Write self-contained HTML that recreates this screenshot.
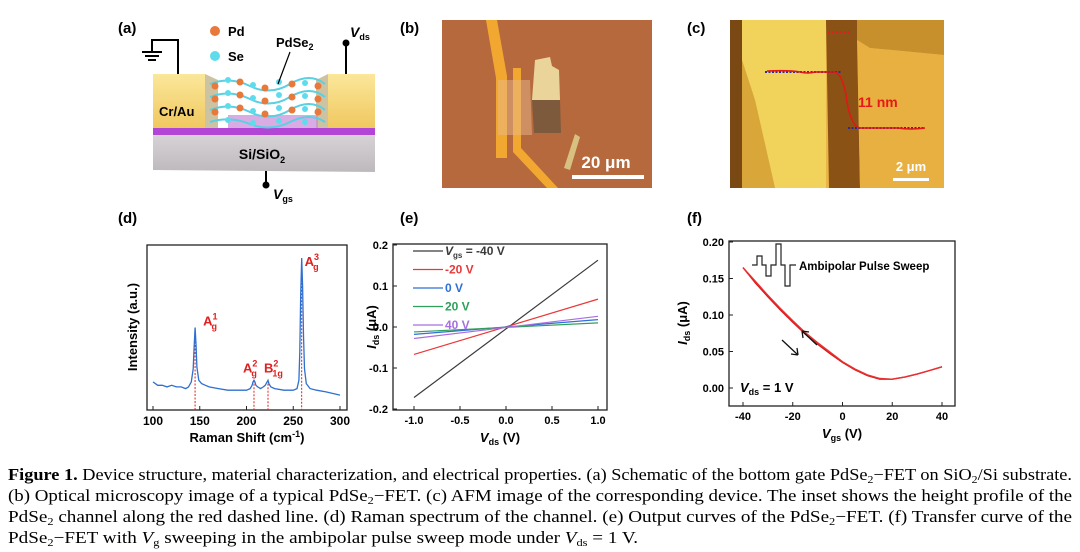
<!DOCTYPE html>
<html><head><meta charset="utf-8"><style>
html,body{margin:0;padding:0;background:#fff;}
svg{display:block;font-family:"Liberation Sans",Arial,sans-serif;}
.b{font-weight:bold;}
</style></head><body>
<svg id="fig" width="1080" height="552" viewBox="0 0 1080 552" xmlns="http://www.w3.org/2000/svg">
<defs>
<linearGradient id="gold" x1="0" y1="0" x2="0" y2="1"><stop offset="0" stop-color="#fbe79a"/><stop offset="1" stop-color="#f0c860"/></linearGradient>
<linearGradient id="gray" x1="0" y1="0" x2="0" y2="1"><stop offset="0" stop-color="#d6d2d6"/><stop offset="1" stop-color="#bdb9bd"/></linearGradient>
</defs>

<!-- Panel a -->
<g>
<text x="118" y="33" class="b" font-size="15">(a)</text>
<polygon points="153,135 375,135 375,172 153,170" fill="url(#gray)"/>
<rect x="153" y="128" width="222" height="7" fill="#b245d6"/>
<rect x="153" y="74" width="52" height="54" fill="url(#gold)"/>
<rect x="328" y="74" width="47" height="54" fill="url(#gold)"/>
<polygon points="205,74 218,80 218,128 205,128" fill="#b8a87a" opacity="0.7"/>
<polygon points="328,74 316,80 316,128 328,128" fill="#b8a87a" opacity="0.7"/>
<rect x="228" y="115" width="90" height="13" fill="#c98ad8" opacity="0.7"/>
<g stroke="#5ad0e0" stroke-width="2" fill="none">
<path d="M210,84 Q230,76 250,86 T290,84 T325,84"/>
<path d="M210,97 Q230,89 250,99 T290,97 T325,97"/>
<path d="M210,110 Q230,102 250,112 T290,110 T325,110"/>
<path d="M210,122 Q230,116 250,124 T290,122 T325,122"/>
</g>
<g fill="#e8793a">
<circle cx="215" cy="86" r="3.5"/><circle cx="240" cy="82" r="3.5"/><circle cx="265" cy="88" r="3.5"/><circle cx="292" cy="84" r="3.5"/><circle cx="318" cy="86" r="3.5"/>
<circle cx="215" cy="99" r="3.5"/><circle cx="240" cy="95" r="3.5"/><circle cx="265" cy="101" r="3.5"/><circle cx="292" cy="97" r="3.5"/><circle cx="318" cy="99" r="3.5"/>
<circle cx="215" cy="112" r="3.5"/><circle cx="240" cy="108" r="3.5"/><circle cx="265" cy="114" r="3.5"/><circle cx="292" cy="110" r="3.5"/><circle cx="318" cy="112" r="3.5"/>
</g>
<g fill="#5fdcec">
<circle cx="228" cy="80" r="3"/><circle cx="253" cy="85" r="3"/><circle cx="279" cy="82" r="3"/><circle cx="305" cy="83" r="3"/>
<circle cx="228" cy="93" r="3"/><circle cx="253" cy="98" r="3"/><circle cx="279" cy="95" r="3"/><circle cx="305" cy="96" r="3"/>
<circle cx="228" cy="106" r="3"/><circle cx="253" cy="111" r="3"/><circle cx="279" cy="108" r="3"/><circle cx="305" cy="109" r="3"/>
<circle cx="228" cy="120" r="3"/><circle cx="253" cy="123" r="3"/><circle cx="279" cy="121" r="3"/><circle cx="305" cy="122" r="3"/>
</g>
<text x="159" y="116" class="b" font-size="13">Cr/Au</text>
<text x="262" y="159" class="b" font-size="14" text-anchor="middle">Si/SiO<tspan font-size="9" dy="4">2</tspan></text>
<path d="M178,74 V40 H152 V52" stroke="#000" stroke-width="2" fill="none"/>
<path d="M142,52 H162 M145,56 H159 M148,60 H156" stroke="#000" stroke-width="2"/>
<path d="M346,74 V43" stroke="#000" stroke-width="2"/><circle cx="346" cy="43" r="3.5" fill="#000"/>
<text x="350" y="37" class="b" font-size="14"><tspan font-style="italic">V</tspan><tspan font-size="9" dy="3">ds</tspan></text>
<path d="M266,171 V184" stroke="#000" stroke-width="2"/><circle cx="266" cy="185" r="3.5" fill="#000"/>
<text x="273" y="199" class="b" font-size="14"><tspan font-style="italic">V</tspan><tspan font-size="9" dy="3">gs</tspan></text>
<circle cx="215" cy="31" r="5" fill="#e8793a"/><text x="228" y="36" class="b" font-size="13">Pd</text>
<circle cx="215" cy="56" r="5" fill="#5fdcec"/><text x="228" y="61" class="b" font-size="13">Se</text>
<text x="276" y="47" class="b" font-size="13">PdSe<tspan font-size="9" dy="3">2</tspan></text>
<path d="M290,52 L278,84" stroke="#000" stroke-width="1.2"/>
</g>

<!-- Panel b -->
<g>
<text x="400" y="33" class="b" font-size="15">(b)</text>
<rect x="442" y="20" width="210" height="168" fill="#b5693d"/>
<polygon points="486,20 497,20 507,76 507,158 496,158 496,78" fill="#f2a830"/>
<polygon points="513,68 521,68 521,148 558,188 547,188 513,152" fill="#f2a830"/>
<polygon points="498,80 530,80 532,135 498,135" fill="#e7b78a" opacity="0.5"/>
<polygon points="535,60 550,57 552,66 559,70 560,100 532,100" fill="#ead49a"/>
<polygon points="532,100 560,100 561,133 534,133" fill="#7e5a3c"/>
<polygon points="575,134 580,137 570,170 564,168" fill="#d8c080"/>
<text x="606" y="168" class="b" font-size="17" fill="#fff" text-anchor="middle">20 μm</text>
<rect x="572" y="175" width="72" height="4" fill="#fff"/>
</g>

<!-- Panel c -->
<g>
<text x="687" y="33" class="b" font-size="15">(c)</text>
<rect x="730" y="20" width="214" height="168" fill="#e9b448"/>
<rect x="730" y="20" width="12" height="168" fill="#7a4812"/>
<polygon points="742,20 826,20 826,188 775,188 755,100 742,60" fill="#f1d35c"/>
<polygon points="742,60 755,100 775,188 742,188" fill="#d9a63a"/>
<polygon points="826,20 857,20 860,188 829,188" fill="#8a5214"/>
<polygon points="857,20 944,20 944,55 870,48 857,40" fill="#c8902c"/>
<polygon points="857,40 870,48 944,55 944,188 860,188" fill="#e8b040"/>
<path d="M828,32 H852" stroke="#e02020" stroke-width="2" stroke-dasharray="2,2"/>
<path d="M765,72 H842 M848,128 H925" stroke="#2a2aa0" stroke-width="2" stroke-dasharray="2,1.5"/>
<path d="M767,71 Q790,70 800,72 Q808,74 815,72 L835,72 Q842,74 846,95 Q850,126 860,128 L898,128 Q910,130 925,128" stroke="#e01818" stroke-width="1.6" fill="none"/>
<text x="858" y="107" class="b" font-size="14" fill="#e81818">11 nm</text>
<text x="911" y="171" class="b" font-size="13" fill="#fff" text-anchor="middle">2 μm</text>
<rect x="893" y="178" width="36" height="3" fill="#fff"/>
</g>

<text x="118" y="223" class="b" font-size="15">(d)</text>
<text x="400" y="223" class="b" font-size="15">(e)</text>
<text x="687" y="223" class="b" font-size="15">(f)</text>

<g id="gd"></g>
<g id="ge"></g>
<g id="gf"></g>

<g font-family="'Liberation Serif',serif" font-size="17">
<text x="8" y="480" textLength="1064" lengthAdjust="spacingAndGlyphs"><tspan font-weight="bold">Figure 1.</tspan> Device structure, material characterization, and electrical properties. (a) Schematic of the bottom gate PdSe<tspan font-size="11" dy="3">2</tspan><tspan dy="-3">−FET on SiO</tspan><tspan font-size="11" dy="3">2</tspan><tspan dy="-3">/Si substrate.</tspan></text>
<text x="8" y="501" textLength="1064" lengthAdjust="spacingAndGlyphs">(b) Optical microscopy image of a typical PdSe<tspan font-size="11" dy="3">2</tspan><tspan dy="-3">−FET. (c) AFM image of the corresponding device. The inset shows the height profile of the</tspan></text>
<text x="8" y="522" textLength="1064" lengthAdjust="spacingAndGlyphs">PdSe<tspan font-size="11" dy="3">2</tspan><tspan dy="-3"> channel along the red dashed line. (d) Raman spectrum of the channel. (e) Output curves of the PdSe</tspan><tspan font-size="11" dy="3">2</tspan><tspan dy="-3">−FET. (f) Transfer curve of the</tspan></text>
<text x="8" y="543" textLength="630" lengthAdjust="spacingAndGlyphs">PdSe<tspan font-size="11" dy="3">2</tspan><tspan dy="-3">−FET with </tspan><tspan font-style="italic">V</tspan><tspan font-size="11" dy="3">g</tspan><tspan dy="-3"> sweeping in the ambipolar pulse sweep mode under </tspan><tspan font-style="italic">V</tspan><tspan font-size="11" dy="3">ds</tspan><tspan dy="-3"> = 1 V.</tspan></text>
</g>
</svg>
<script>
// ---- data ----
const ramanShift = [100,105,110,115,120,125,130,135,138,141,143,144,145,146,147,149,152,156,160,170,180,190,200,204,206,207,208,209,210,212,215,218,220,222,223,224,226,230,240,250,254,256,257,258,259,260,261,262,264,268,275,285,300];
const ramanInt = [17,15,15,14,15,14,14,13,14,17,25,38,50,40,26,18,16,15,14,13,12,12,12,13,15,17,18,17,15,14,13,14,15,17,18,16,14,13,12,12,13,18,35,70,92,75,45,25,16,13,12,11,9];
const ramanTicks = [100,150,200,250,300];
const peakShifts = [145,208,223,259];
const peakInts = [50,18,18,92];

const vdsRange = [-1,1];
const gateLabels = ['-40 V','-20 V','0 V','20 V','40 V'];
const idsAtNeg1 = [-0.172,-0.067,-0.018,-0.012,-0.028];
const idsAtPos1 = [0.163,0.068,0.018,0.010,0.026];
const gateColors = ['#3a3a3a','#e8393a','#2f6fd6','#2ea05a','#a86ee0'];
const eXTicks = [-1.0,-0.5,0.0,0.5,1.0];
const eYTicks = [-0.2,-0.1,0.0,0.1,0.2];

const vgs = [-40,-35,-30,-25,-20,-15,-10,-5,0,5,10,15,20,25,30,35,40];
const idsFwd = [0.165,0.144,0.125,0.107,0.090,0.074,0.060,0.047,0.035,0.025,0.017,0.012,0.012,0.015,0.019,0.024,0.029];
const idsBwd = [0.165,0.146,0.127,0.109,0.092,0.076,0.062,0.049,0.036,0.026,0.018,0.013,0.012,0.015,0.019,0.024,0.029];
const fXTicks = [-40,-20,0,20,40];
const fYTicks = [0.00,0.05,0.10,0.15,0.20];

const NS='http://www.w3.org/2000/svg';
function mk(tag,attrs,parent){const e=document.createElementNS(NS,tag);for(const k in attrs)e.setAttribute(k,attrs[k]);parent.appendChild(e);return e;}
function txt(parent,x,y,s,anchor,size){const t=mk('text',{x:x,y:y,'text-anchor':anchor||'middle','font-size':size||12,'font-weight':'bold'},parent);t.textContent=s;return t;}

// ---- panel d ----
(function(){
const g=document.getElementById('gd');
const L=147,R=347,T=245,B=410;
const xs=s=>153+(s-100)*(187/200), ys=v=>B-v*1.65;
const fr=mk('rect',{x:L,y:T,width:R-L,height:B-T,fill:'none',stroke:'#222','stroke-width':1.3},g);


ramanTicks.forEach(v=>{mk('line',{x1:xs(v),x2:xs(v),y1:B,y2:B-4,stroke:'#222'},g);
 const t=txt(g,xs(v),425,String(v),'middle',12);
 
 });
peakShifts.forEach((s,i)=>{const l=mk('line',{x1:xs(s),x2:xs(s),y1:ys(peakInts[i]),y2:B,stroke:'#e02020','stroke-width':1,'stroke-dasharray':'2,1.5'},g);
 
 });
const p=mk('path',{d:ramanShift.map((s,i)=>(i?'L':'M')+xs(s).toFixed(1)+','+ys(ramanInt[i]).toFixed(1)).join(''),stroke:'#2f6fd0','stroke-width':1.3,fill:'none'},g);


const labs=[['1','',0,-10],['2','',-12,-12],['2','1g',-8,-12],['3','',-2,-6]];
const pre=['A','A','B','A'];
peakShifts.forEach((s,i)=>{const x=xs(s)+[8,-11,-4,3][i],y=ys(peakInts[i])+[-2,-8,-8,8][i];
 const t=mk('text',{x:x,y:y,'font-size':13,'font-weight':'bold',fill:'#e02020'},g);
 
 
 t.innerHTML=pre[i]+'<tspan font-size="9" dy="-6">'+labs[i][0]+'</tspan><tspan font-size="9" dx="-6" dy="10">'+(labs[i][1]||'g')+'</tspan>';});
const xt=txt(g,247,442,'','middle',13);
xt.innerHTML='Raman Shift (cm<tspan font-size="9" dy="-5">-1</tspan><tspan dy="5">)</tspan>';


const yt=txt(g,0,0,'Intensity (a.u.)','middle',13);
yt.setAttribute('transform','translate(137,327) rotate(-90)');


})();

// ---- panel e ----
(function(){
const g=document.getElementById('ge');
const L=393,R=607,T=244,B=410;
const xs=v=>414+(v+1)*92, ys=i=>327-i*410;
const fr=mk('rect',{x:L,y:T,width:R-L,height:B-T,fill:'none',stroke:'#222','stroke-width':1.3},g);


eXTicks.forEach(v=>{mk('line',{x1:xs(v),x2:xs(v),y1:B,y2:B-4,stroke:'#222'},g);
 const t=txt(g,xs(v),424,v.toFixed(1),'middle',11);
 
 });
eYTicks.forEach(v=>{mk('line',{x1:L,x2:L+4,y1:ys(v),y2:ys(v),stroke:'#222'},g);
 const t=txt(g,388,ys(v)+4,v.toFixed(1),'end',11);
 
 });
gateLabels.forEach((lab,i)=>{
 const l=mk('line',{x1:xs(vdsRange[0]),y1:ys(idsAtNeg1[i]),x2:xs(vdsRange[1]),y2:ys(idsAtPos1[i]),stroke:gateColors[i],'stroke-width':1.2},g);
 
 
 const ly=251+i*18.5;
 mk('line',{x1:413,x2:443,y1:ly,y2:ly,stroke:gateColors[i],'stroke-width':1.3},g);
 const t=mk('text',{x:445,y:ly+4,'font-size':12,'font-weight':'bold',fill:gateColors[i]},g);
 
 
 t.innerHTML=i===0?'<tspan font-style="italic">V</tspan><tspan font-size="8" dy="3">gs</tspan><tspan dy="-3"> = '+lab+'</tspan>':lab;});
const xt=txt(g,500,442,'','middle',13);
xt.innerHTML='<tspan font-style="italic">V</tspan><tspan font-size="9" dy="3">ds</tspan><tspan dy="-3"> (V)</tspan>';


const yt=txt(g,0,0,'','middle',13);
yt.innerHTML='<tspan font-style="italic">I</tspan><tspan font-size="9" dy="3">ds</tspan><tspan dy="-3"> (μA)</tspan>';
yt.setAttribute('transform','translate(376,327) rotate(-90)');


})();

// ---- panel f ----
(function(){
const g=document.getElementById('gf');
const L=729,R=955,T=241,B=406;
const xs=v=>743+(v+40)*199/80, ys=i=>388-i*730;
const fr=mk('rect',{x:L,y:T,width:R-L,height:B-T,fill:'none',stroke:'#222','stroke-width':1.3},g);


fXTicks.forEach(v=>{mk('line',{x1:xs(v),x2:xs(v),y1:B,y2:B-4,stroke:'#222'},g);
 const t=txt(g,xs(v),420,String(v),'middle',11);
 
 });
fYTicks.forEach(v=>{mk('line',{x1:L,x2:L+4,y1:ys(v),y2:ys(v),stroke:'#222'},g);
 const t=txt(g,724,ys(v)+4,v.toFixed(2),'end',11);
 
 });
[idsFwd,idsBwd].forEach((arr,k)=>{
 const p=mk('path',{d:vgs.map((v,i)=>(i?'L':'M')+xs(v).toFixed(1)+','+ys(arr[i]).toFixed(1)).join(''),stroke:k?'#e83030':'#d81818','stroke-width':1.4,fill:'none'},g);
 
 });
const a1=mk('path',{d:'M782,340 L798,355 M798,355 L791,354 M798,355 L797,348',stroke:'#111','stroke-width':1.3,fill:'none'},g);


const a2=mk('path',{d:'M817,345 L802,331 M802,331 L809,332 M802,331 L803,338',stroke:'#111','stroke-width':1.3,fill:'none'},g);


const pulse=mk('path',{d:'M752,265 H757 V256 H762 V265 H766 V276 H771 V265 H776 V244 H781 V265 H785 V286 H790 V265 H796',stroke:'#222','stroke-width':1.2,fill:'none'},g);


const at=txt(g,799,270,'Ambipolar Pulse Sweep','start',11.5);


const vt=txt(g,740,392,'','start',13);
vt.innerHTML='<tspan font-style="italic">V</tspan><tspan font-size="9" dy="3">ds</tspan><tspan dy="-3"> = 1 V</tspan>';


const xt=txt(g,842,438,'','middle',13);
xt.innerHTML='<tspan font-style="italic">V</tspan><tspan font-size="9" dy="3">gs</tspan><tspan dy="-3"> (V)</tspan>';


const yt=txt(g,0,0,'','middle',13);
yt.innerHTML='<tspan font-style="italic">I</tspan><tspan font-size="9" dy="3">ds</tspan><tspan dy="-3"> (μA)</tspan>';
yt.setAttribute('transform','translate(687,323) rotate(-90)');


})();
</script>
</body></html>
